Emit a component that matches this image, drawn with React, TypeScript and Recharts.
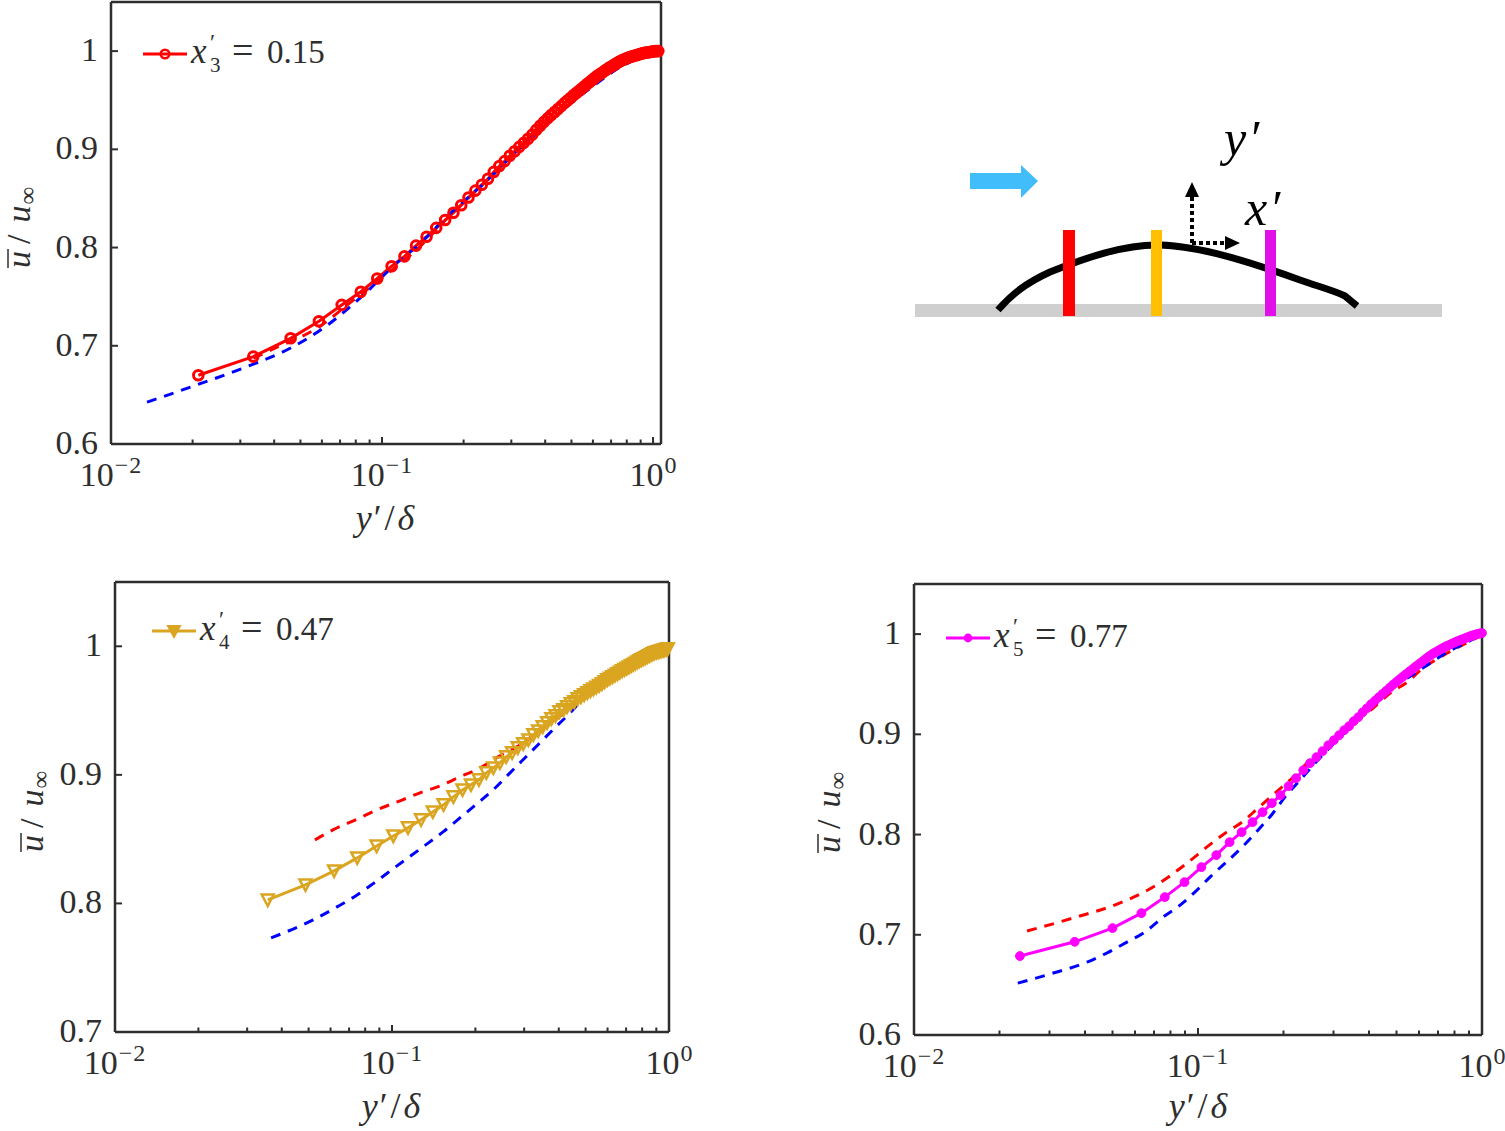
import { LineChart, Line, XAxis, YAxis } from "recharts";

const INK = "#2e2e2e";
const SERIF = "'Liberation Serif', serif";

const logTicks = [
  0.01, 0.02, 0.03, 0.04, 0.05, 0.06, 0.07, 0.08, 0.09,
  0.1, 0.2, 0.3, 0.4, 0.5, 0.6, 0.7, 0.8, 0.9, 1,
];
const majorExponents: Record<number, string> = { 0.01: "\u22122", 0.1: "\u22121", 1: "0" };

// panel 1, x'3 = 0.15
const x3X = [
  0.021, 0.0335, 0.046, 0.0585, 0.071, 0.0835, 0.096, 0.1085, 0.121, 0.1335, 0.146, 0.1585,
  0.171, 0.1835, 0.196, 0.2085, 0.221, 0.2335, 0.246, 0.2585, 0.271, 0.2835, 0.296, 0.3085,
  0.321, 0.3335, 0.346, 0.3585, 0.371, 0.3835, 0.396, 0.4085, 0.421, 0.4335, 0.446, 0.4585,
  0.471, 0.4835, 0.496, 0.5085, 0.521, 0.5335, 0.546, 0.5585, 0.571, 0.5835, 0.596, 0.6085,
  0.621, 0.6335, 0.646, 0.6585, 0.671, 0.6835, 0.696, 0.7085, 0.721, 0.7335, 0.746, 0.7585,
  0.771, 0.7835, 0.796, 0.8085, 0.821, 0.8335, 0.846, 0.8585, 0.871, 0.8835, 0.896, 0.9085,
  0.921, 0.9335, 0.946, 0.9585, 0.971, 0.9835, 0.996, 1.0085, 1.021, 1.0335, 1.046,
];
const x3Y = [
  0.67, 0.689, 0.7076, 0.725, 0.7416, 0.755, 0.7685, 0.781, 0.791, 0.802, 0.811, 0.82,
  0.828, 0.8355, 0.843, 0.851, 0.858, 0.864, 0.87, 0.877, 0.883, 0.888, 0.8934, 0.898,
  0.9025, 0.9066, 0.9107, 0.915, 0.9198, 0.924, 0.928, 0.9315, 0.935, 0.938, 0.941, 0.944,
  0.947, 0.9497, 0.9523, 0.955, 0.9574, 0.9597, 0.962, 0.9643, 0.9665, 0.9686, 0.9706, 0.9726,
  0.9746, 0.9762, 0.9777, 0.9794, 0.981, 0.9824, 0.9838, 0.985, 0.9863, 0.9876, 0.9888, 0.9899,
  0.9909, 0.9917, 0.9924, 0.9932, 0.994, 0.9945, 0.995, 0.9955, 0.996, 0.9965, 0.997, 0.9975,
  0.998, 0.9983, 0.9985, 0.9988, 0.999, 0.9993, 0.9995, 0.9998, 1.0, 1.0, 1.0,
];
const x3RedX = [0.0335, 0.041, 0.0575, 0.0782, 0.1117, 0.138, 0.178, 0.2438, 0.3148, 0.4064, 0.538, 0.637, 0.736, 0.873, 1.035];
const x3RedY = [0.6873, 0.6985, 0.7178, 0.7462, 0.7797, 0.801, 0.8325, 0.868, 0.8975, 0.9269, 0.9553, 0.9716, 0.9827, 0.9929, 0.999];
const x3BlueX = [0.01358, 0.0201, 0.0326, 0.0458, 0.0627, 0.0851, 0.1117, 0.138, 0.178, 0.2438, 0.3148, 0.4064, 0.538, 0.637, 0.736, 0.873, 1.035];
const x3BlueY = [0.6426, 0.6589, 0.68, 0.6975, 0.7208, 0.7513, 0.7827, 0.804, 0.8345, 0.868, 0.8985, 0.9259, 0.9543, 0.9695, 0.9817, 0.9919, 0.998];

// panel 2, x'4 = 0.47
const x4X = [
  0.0356, 0.0487, 0.0618, 0.0749, 0.088, 0.1011, 0.1142, 0.1273, 0.1404, 0.1535, 0.1666, 0.1797,
  0.1928, 0.2059, 0.219, 0.2321, 0.2452, 0.2583, 0.2714, 0.2845, 0.2976, 0.3107, 0.3238, 0.3369,
  0.35, 0.3631, 0.3762, 0.3893, 0.4024, 0.4155, 0.4286, 0.4417, 0.4548, 0.4679, 0.481, 0.494,
  0.5072, 0.5203, 0.5334, 0.5465, 0.5596, 0.5727, 0.5858, 0.5989, 0.612, 0.6251, 0.6382, 0.6513,
  0.6644, 0.6775, 0.6906, 0.7037, 0.7168, 0.7299, 0.743, 0.7561, 0.7692, 0.7823, 0.7954, 0.8085,
  0.8216, 0.8347, 0.8478, 0.8609, 0.874, 0.8871, 0.9002, 0.9133, 0.9264, 0.9395, 0.9526, 0.9657,
  0.9788, 0.99,
];
const x4Y = [
  0.8027, 0.8144, 0.8253, 0.8354, 0.8447, 0.8525, 0.8588, 0.865, 0.8712, 0.8767, 0.8829, 0.8883,
  0.8922, 0.8961, 0.9016, 0.9054, 0.9093, 0.914, 0.9171, 0.921, 0.9241, 0.9272, 0.9311, 0.9342,
  0.9374, 0.9405, 0.9436, 0.9459, 0.949, 0.9506, 0.9529, 0.9553, 0.9568, 0.9591, 0.9607, 0.9623,
  0.9639, 0.9654, 0.9668, 0.9681, 0.9695, 0.9708, 0.9724, 0.9739, 0.9751, 0.9763, 0.9775, 0.9786,
  0.9798, 0.9809, 0.9819, 0.9829, 0.9838, 0.9848, 0.9858, 0.9868, 0.9878, 0.9887, 0.9895, 0.9903,
  0.9911, 0.9918, 0.9926, 0.9934, 0.9942, 0.9949, 0.9953, 0.9957, 0.9961, 0.9965, 0.9969, 0.9973,
  0.9977, 0.9981,
];
const x4RedX = [0.0527, 0.0612, 0.0754, 0.0883, 0.1069, 0.1262, 0.149, 0.1759, 0.208, 0.2415, 0.2825, 0.3337, 0.381, 0.4395, 0.5105, 0.597, 0.6935, 0.8185, 0.968];
const x4RedY = [0.8494, 0.8572, 0.8658, 0.8728, 0.8798, 0.886, 0.8914, 0.8984, 0.9054, 0.914, 0.9218, 0.9327, 0.9412, 0.9521, 0.9623, 0.9724, 0.9794, 0.9903, 0.9965];
const x4BlueX = [0.0366, 0.0519, 0.0633, 0.0748, 0.0853, 0.1042, 0.1294, 0.1528, 0.1759, 0.2043, 0.2317, 0.2624, 0.2972, 0.342, 0.3873, 0.4395, 0.5058, 0.5728, 0.6653, 0.7852, 0.9506];
const x4BlueY = [0.7732, 0.7872, 0.7973, 0.8066, 0.8152, 0.8292, 0.844, 0.8556, 0.8665, 0.8782, 0.8883, 0.9, 0.9117, 0.9249, 0.9366, 0.9482, 0.9623, 0.97, 0.9802, 0.9879, 0.9957];

// panel 3, x'5 = 0.77
const x5X = [
  0.0236, 0.0368, 0.05, 0.0632, 0.0764, 0.0896, 0.1028, 0.116, 0.1292, 0.1424, 0.1556, 0.1688,
  0.182, 0.1952, 0.2084, 0.2216, 0.2348, 0.248, 0.2612, 0.2744, 0.2876, 0.3008, 0.314, 0.3272,
  0.3404, 0.3536, 0.3668, 0.38, 0.3932, 0.4064, 0.4196, 0.4328, 0.4464, 0.46, 0.4732, 0.486, 0.4992,
  0.5124, 0.5256, 0.5388, 0.552, 0.5652, 0.5784, 0.5916, 0.6048, 0.618, 0.6312, 0.6444, 0.6576,
  0.6708, 0.684, 0.6972, 0.7104, 0.7236, 0.7368, 0.75, 0.7632, 0.7764, 0.7896, 0.8028, 0.816,
  0.8292, 0.8424, 0.8556, 0.8688, 0.882, 0.8952, 0.9084, 0.9216, 0.9348, 0.948, 0.9612, 0.9744,
  0.9876, 1.0,
];
const x5Y = [
  0.6788, 0.693, 0.7067, 0.7216, 0.7376, 0.7525, 0.7675, 0.7795, 0.7924, 0.8024, 0.8124, 0.8223,
  0.8313, 0.8393, 0.8483, 0.8562, 0.8642, 0.8712, 0.8772, 0.8832, 0.8891, 0.8941, 0.8991, 0.9041,
  0.9081, 0.9131, 0.9171, 0.922, 0.926, 0.93, 0.9335, 0.937, 0.9403, 0.9435, 0.9465, 0.9495, 0.9522,
  0.9549, 0.9574, 0.9599, 0.9622, 0.9644, 0.9667, 0.9689, 0.9709, 0.9729, 0.9749, 0.9769, 0.9787,
  0.9804, 0.9818, 0.9831, 0.9844, 0.9857, 0.9869, 0.988, 0.9889, 0.9899, 0.9909, 0.9918, 0.9927,
  0.9935, 0.9943, 0.995, 0.9957, 0.9964, 0.9971, 0.9978, 0.9985, 0.999, 0.9995, 1.0, 1.0004,
  1.0008, 1.001,
];
const x5RedX = [0.025, 0.0363, 0.0519, 0.0695, 0.0915, 0.1084, 0.1245, 0.1429, 0.1626, 0.1866, 0.2143, 0.2421, 0.2754, 0.3162, 0.3631, 0.413, 0.4742, 0.5445, 0.6194, 0.7112, 0.8222, 1];
const x5RedY = [0.7037, 0.7167, 0.7306, 0.7476, 0.7715, 0.7884, 0.8014, 0.8124, 0.8263, 0.8413, 0.8562, 0.8712, 0.8841, 0.8991, 0.9141, 0.926, 0.941, 0.9519, 0.9659, 0.9769, 0.9868, 0.9988];
const x5BlueX = [0.0232, 0.0301, 0.0407, 0.0478, 0.0562, 0.065, 0.0753, 0.0865, 0.0975, 0.1102, 0.1429, 0.1626, 0.1824, 0.2023, 0.2286, 0.2582, 0.2917, 0.3296, 0.3718, 0.42, 0.4742, 0.5445, 0.64, 0.7534, 0.885, 1];
const x5BlueY = [0.6518, 0.6608, 0.6728, 0.6818, 0.6927, 0.7027, 0.7176, 0.7296, 0.7426, 0.7575, 0.7874, 0.8044, 0.8203, 0.8373, 0.8542, 0.8712, 0.8871, 0.9021, 0.917, 0.934, 0.946, 0.9559, 0.9689, 0.9819, 0.9918, 0.9998];

const zip = (xs: number[], ys: number[]) => xs.map((x, i) => ({ x, y: ys[i] }));

const BottomTick = ({ x, y, payload }: any) => {
  const exp = majorExponents[payload.value];
  return (
    <g>
      <line x1={x} x2={x} y1={y} y2={y - (exp ? 7 : 4.5)} stroke={INK} strokeWidth={2} />
      {exp && (
        <text x={x} y={y + 42} textAnchor="middle" fontFamily={SERIF} fontSize={34} fill={INK}>
          10<tspan dx={1} dy={-13} fontSize={24} letterSpacing={exp.length > 1 ? 1 : 0}>{exp}</tspan>
        </text>
      )}
    </g>
  );
};

const TopTick = ({ x, y, payload }: any) => (
  <line x1={x} x2={x} y1={y} y2={y + (majorExponents[payload.value] ? 7 : 4.5)} stroke={INK} strokeWidth={2} />
);

const LeftTick = ({ x, y, payload }: any) => (
  <g>
    <line x1={x} x2={x + 7} y1={y} y2={y} stroke={INK} strokeWidth={2} />
    <text x={x - 13} y={y + 10} textAnchor="end" fontFamily={SERIF} fontSize={34} fill={INK}>
      {payload.value}
    </text>
  </g>
);

const RightTick = ({ x, y }: any) => (
  <line x1={x} x2={x - 7} y1={y} y2={y} stroke={INK} strokeWidth={2} />
);

const circleDot = { r: 4.8, fill: "none", stroke: "#ff0000", strokeWidth: 3 };
const magentaDot = { r: 4.4, fill: "#ff00ff", stroke: "#ff00ff", strokeWidth: 1 };

const TriangleDot = ({ cx, cy, index }: any) => (
  <polygon
    key={index}
    points={`${cx - 6},${cy - 5.5} ${cx + 6},${cy - 5.5} ${cx},${cy + 6}`}
    fill="none"
    stroke="#DAA520"
    strokeWidth={2.5}
  />
);

// the overbar is a drawn stroke, text-decoration lands too far from the letter
const YLabel = ({ x, y }: { x: number; y: number }) => (
  <g transform={`rotate(-90 ${x} ${y})`}>
    <text x={x} y={y} fontFamily={SERIF} fontSize={34} fill={INK}>
      <tspan fontStyle="italic">u</tspan>
      <tspan dx={7}>/</tspan>
      <tspan dx={12} fontStyle="italic">u</tspan>
      <tspan dx={1} dy={6} fontSize={25}>{"\u221E"}</tspan>
    </text>
    <line x1={x} x2={x + 19} y1={y - 22} y2={y - 22} stroke={INK} strokeWidth={1.5} />
  </g>
);

const XLabel = ({ x, y }: { x: number; y: number }) => (
  <text x={x} y={y} textAnchor="middle" fontFamily={SERIF} fontSize={36} fill={INK}>
    <tspan fontStyle="italic">y</tspan>
    <tspan dx={2}>{"\u2032"}</tspan>
    <tspan dx={3}>/</tspan>
    <tspan dx={3} fontStyle="italic">{"\u03B4"}</tspan>
  </text>
);

const PanelLegend = ({ x, y, sub, value, color, marker }: any) => (
  <g>
    <line x1={x} x2={x + 44} y1={y} y2={y} stroke={color} strokeWidth={3} />
    {marker(x + 22, y)}
    <text y={y + 9} fontFamily={SERIF} fontSize={33} fill={INK}>
      <tspan x={x + 48} fontSize={35} fontStyle="italic">x</tspan>
      <tspan x={x + 67} dy={-13} fontSize={23}>{"\u2032"}</tspan>
      <tspan x={x + 67} dy={22} fontSize={21}>{sub}</tspan>
      <tspan x={x + 89} dy={-9} fontSize={38}>=</tspan>
      <tspan x={x + 124}>{value}</tspan>
    </text>
  </g>
);

const Panel = ({ box, xMax, yTicks, solid, red, blue, solidColor, dot, children }: any) => {
  // axes keep 1px of size or they are not drawn at all
  const margin = { left: box.left - 1, top: box.top - 1, right: 1505 - box.right - 1, bottom: 1131 - box.bottom - 1 };
  return (
    <div style={{ position: "absolute", left: 0, top: 0, width: 1505, height: 1131 }}>
      <LineChart width={1505} height={1131} margin={margin}>
        <XAxis xAxisId="b" type="number" dataKey="x" scale="log" domain={[0.01, xMax]} ticks={logTicks} interval={0}
          orientation="bottom" height={1} tickSize={0} tickMargin={0} tick={<BottomTick />} tickLine={false}
          axisLine={{ stroke: INK, strokeWidth: 2.5 }} />
        <XAxis xAxisId="t" type="number" dataKey="x" scale="log" domain={[0.01, xMax]} ticks={logTicks} interval={0}
          orientation="top" height={1} tickSize={0} tickMargin={0} tick={<TopTick />} tickLine={false}
          axisLine={{ stroke: INK, strokeWidth: 2.5 }} />
        <YAxis yAxisId="l" type="number" domain={[yTicks[0], 1.05]} ticks={yTicks} interval={0}
          orientation="left" width={1} tickSize={0} tickMargin={0} tick={<LeftTick />} tickLine={false}
          axisLine={{ stroke: INK, strokeWidth: 2.5 }} />
        <YAxis yAxisId="r" type="number" domain={[yTicks[0], 1.05]} ticks={yTicks} interval={0}
          orientation="right" width={1} tickSize={0} tickMargin={0} tick={<RightTick />} tickLine={false}
          axisLine={{ stroke: INK, strokeWidth: 2.5 }} />
        <Line xAxisId="b" yAxisId="l" data={solid} dataKey="y" stroke={solidColor} strokeWidth={3} dot={dot}
          isAnimationActive={false} />
        <Line xAxisId="b" yAxisId="l" data={red} type="monotone" dataKey="y" stroke="#ff0000" strokeWidth={3} strokeDasharray="10 8"
          dot={false} isAnimationActive={false} />
        <Line xAxisId="b" yAxisId="l" data={blue} type="monotone" dataKey="y" stroke="#0000ff" strokeWidth={3} strokeDasharray="10 8"
          dot={false} isAnimationActive={false} />
        {children}
      </LineChart>
    </div>
  );
};

const Schematic = () => (
  <svg width={1505} height={1131} style={{ position: "absolute", left: 0, top: 0 }}>
    <rect x={915} y={304} width={527} height={13} fill="#cfcfcf" />
    <path
      d="M998 310 C1012 294 1026 283 1050 272 C1085 258 1125 244 1160 245 C1200 246 1250 262 1300 280 C1320 287 1335 291 1345 296 L1357 306"
      fill="none"
      stroke="#000"
      strokeWidth={7}
    />
    <rect x={1063} y={230} width={12} height={86} fill="#ff0000" />
    <rect x={1151} y={230} width={11} height={86} fill="#ffc000" />
    <rect x={1265} y={230} width={11} height={86} fill="#e010e8" />
    <polygon points="970,173 1021,173 1021,165 1038,181 1021,198 1021,189 970,189" fill="#40bdfa" />
    <path d="M1192 243 V197 M1192 243 H1225" stroke="#000" strokeWidth={4} strokeDasharray="4 3" fill="none" />
    <polygon points="1185,197 1199,197 1192,182" fill="#000" />
    <polygon points="1225,236 1225,250 1240,243" fill="#000" />
    <text x={1224} y={155} fontFamily={SERIF} fontStyle="italic" fontSize={50} fill="#000">y<tspan dx={2}>{"\u2032"}</tspan></text>
    <text x={1245} y={225} fontFamily={SERIF} fontStyle="italic" fontSize={50} fill="#000">x<tspan dx={2}>{"\u2032"}</tspan></text>
  </svg>
);

export default function App() {
  return (
    <div style={{ position: "absolute", left: 0, top: 0, width: 1505, height: 1131, background: "#fff" }}>
      <Schematic />
      <Panel box={{ left: 111, top: 2, right: 661, bottom: 444 }} xMax={1.07} yTicks={[0.6, 0.7, 0.8, 0.9, 1]}
        solid={zip(x3X, x3Y)} red={zip(x3RedX, x3RedY)} blue={zip(x3BlueX, x3BlueY)} solidColor="#ff0000" dot={circleDot}>
        <YLabel x={30} y={268} />
        <XLabel x={385} y={530} />
        <PanelLegend x={143} y={54} sub="3" value="0.15" color="#ff0000"
          marker={(cx: number, cy: number) => <circle cx={cx} cy={cy} r={4.3} fill="none" stroke="#ff0000" strokeWidth={2.5} />} />
      </Panel>
      <Panel box={{ left: 115, top: 582, right: 669, bottom: 1032 }} xMax={1} yTicks={[0.7, 0.8, 0.9, 1]}
        solid={zip(x4X, x4Y)} red={zip(x4RedX, x4RedY)} blue={zip(x4BlueX, x4BlueY)} solidColor="#DAA520" dot={<TriangleDot />}>
        <YLabel x={43} y={852} />
        <XLabel x={391} y={1118} />
        <PanelLegend x={152} y={631} sub="4" value="0.47" color="#DAA520"
          marker={(cx: number, cy: number) => <polygon points={`${cx - 6},${cy - 5} ${cx + 6},${cy - 5} ${cx},${cy + 6}`} fill="#DAA520" stroke="#DAA520" strokeWidth={2} />} />
      </Panel>
      <Panel box={{ left: 914, top: 584, right: 1482, bottom: 1035 }} xMax={1} yTicks={[0.6, 0.7, 0.8, 0.9, 1]}
        solid={zip(x5X, x5Y)} red={zip(x5RedX, x5RedY)} blue={zip(x5BlueX, x5BlueY)} solidColor="#ff00ff" dot={magentaDot}>
        <YLabel x={840} y={853} />
        <XLabel x={1198} y={1118} />
        <PanelLegend x={946} y={638} sub="5" value="0.77" color="#ff00ff"
          marker={(cx: number, cy: number) => <circle cx={cx} cy={cy} r={4.4} fill="#ff00ff" />} />
      </Panel>
    </div>
  );
}
